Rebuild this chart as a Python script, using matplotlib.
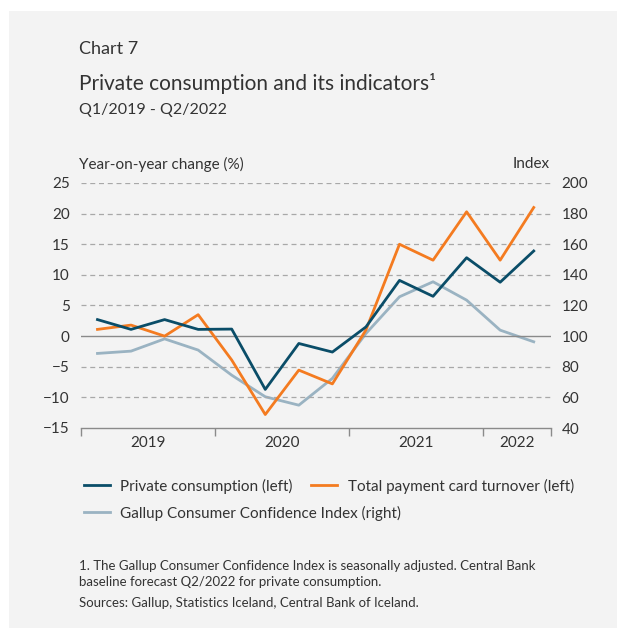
import matplotlib.pyplot as plt
import numpy as np

###########               Data               ###########
quarters = ['Q1/19', 'Q2/19', 'Q3/19', 'Q4/19', 'Q1/20', 'Q2/20', 'Q3/20', 'Q4/20',
            'Q1/21', 'Q2/21', 'Q3/21', 'Q4/21', 'Q1/22', 'Q2/22']
private_consumption = [2.7, 1.1, 2.7, 1.1, 1.15, -8.7, -1.2, -2.6, 1.5, 9.1, 6.5, 12.8, 8.8, 13.9]
card_turnover = [1.1, 1.8, 0.0, 3.5, -3.9, -12.8, -5.55, -7.8, 1.0, 15.0, 12.4, 20.3, 12.4, 21.0]
gallup_index = [88.7, 90.2, 98.2, 90.9, 74.5, 60.4, 54.9, 72.4, 101.7, 125.7, 135.5, 123.5, 103.9, 96.3]
years = ['2019', '2020', '2021', '2022']
year_lengths = [4, 4, 4, 2]

###########               Style               ###########
plt.rcParams['font.family'] = ['Lato', 'DejaVu Sans']
text_col = '#333333'
bg = '#f3f3f3'
c_pc = '#0a4d68'
c_card = '#f47b20'
c_gallup = '#9ab3c2'

fig = plt.figure(figsize=(6.17, 6.28), dpi=100)
fig.patch.set_facecolor('white')
fig.patches.append(plt.Rectangle((9 / 617, 0), 1, 1 - 11 / 628, transform=fig.transFigure,
                                 facecolor=bg, edgecolor='none', zorder=-10))

ax = fig.add_axes([80.7 / 617, 1 - 428 / 628, (550.5 - 80.7) / 617, 245 / 628])
ax.set_facecolor('none')
ax2 = ax.twinx()

x = np.arange(len(quarters))

# grid
for v in range(-10, 30, 5):
    if v == 0:
        ax.axhline(v, color='#8a8a8a', lw=1.0, zorder=1)
    else:
        ax.axhline(v, color='#a8a8a8', lw=0.9, ls=(0, (4, 3)), zorder=1)

ax.plot(x, card_turnover, color=c_card, lw=2.0, zorder=4, label='Total payment card turnover (left)')
ax.plot(x, private_consumption, color=c_pc, lw=2.0, zorder=5, label='Private consumption (left)')
ax2.plot(x, gallup_index, color=c_gallup, lw=2.0, zorder=3, label='Gallup Consumer Confidence Index (right)')
ax.set_zorder(ax2.get_zorder() + 1)

ax.set_xlim(-0.5, len(quarters) - 0.5)
ax.set_ylim(-15, 25)
ax2.set_ylim(40, 200)
ax.set_yticks(range(-15, 30, 5))
ax2.set_yticks(range(40, 220, 20))

# year ticks
bounds = np.concatenate([[0], np.cumsum(year_lengths)]) - 0.5
centers = (bounds[:-1] + bounds[1:]) / 2
ax.set_xticks(bounds, minor=True)
ax.set_xticks(centers)
ax.set_xticklabels(years)
ax.tick_params(axis='x', which='major', length=0, pad=6, labelsize=11, labelcolor=text_col)
ax.tick_params(axis='x', which='minor', length=6, width=1, color='#8a8a8a', direction='out')
ax.tick_params(axis='y', length=0, pad=8, labelsize=11, labelcolor=text_col)
ax2.tick_params(axis='y', length=0, pad=8, labelsize=11, labelcolor=text_col)

for a in (ax, ax2):
    for s in ['top', 'left', 'right']:
        a.spines[s].set_visible(False)
ax2.spines['bottom'].set_visible(False)
ax.spines['bottom'].set_color('#8a8a8a')
ax.spines['bottom'].set_linewidth(1)

###########               Texts               ###########
fig.text(79 / 617, 1 - 49 / 628, 'Chart 7', fontsize=13, color=text_col, va='center')
fig.text(79 / 617, 1 - 84 / 628, 'Private consumption and its indicators¹', fontsize=15,
         color=text_col, va='center')
fig.text(79 / 617, 1 - 110 / 628, 'Q1/2019 - Q2/2022', fontsize=11.5, color=text_col, va='center')
fig.text(79 / 617, 1 - 164 / 628, 'Year-on-year change (%)', fontsize=11, color=text_col, va='center')
fig.text(550 / 617, 1 - 164 / 628, 'Index', fontsize=11, color=text_col, va='center', ha='right')

# legend
h1, l1 = ax.get_legend_handles_labels()
h2, l2 = ax2.get_legend_handles_labels()
handles = [h1[1], h1[0], h2[0]]
labels = [l1[1], l1[0], l2[0]]
leg1 = fig.legend(handles[:2], labels[:2], loc='center left', bbox_to_anchor=(70 / 617, 1 - 486 / 628),
                  ncol=2, frameon=False, fontsize=11, handlelength=1.7, handletextpad=0.7,
                  columnspacing=1.2, labelcolor=text_col)
leg2 = fig.legend(handles[2:], labels[2:], loc='center left', bbox_to_anchor=(70 / 617, 1 - 513 / 628),
                  frameon=False, fontsize=11, handlelength=1.7, handletextpad=0.7, labelcolor=text_col)

fig.text(79 / 617, 1 - 566 / 628, '1. The Gallup Consumer Confidence Index is seasonally adjusted. Central Bank',
         fontsize=9.5, color=text_col, va='center')
fig.text(79 / 617, 1 - 582 / 628, 'baseline forecast Q2/2022 for private consumption.',
         fontsize=9.5, color=text_col, va='center')
fig.text(79 / 617, 1 - 603 / 628, 'Sources: Gallup, Statistics Iceland, Central Bank of Iceland.',
         fontsize=9.5, color=text_col, va='center')

fig.savefig('out.png', dpi=100, facecolor=fig.get_facecolor())
